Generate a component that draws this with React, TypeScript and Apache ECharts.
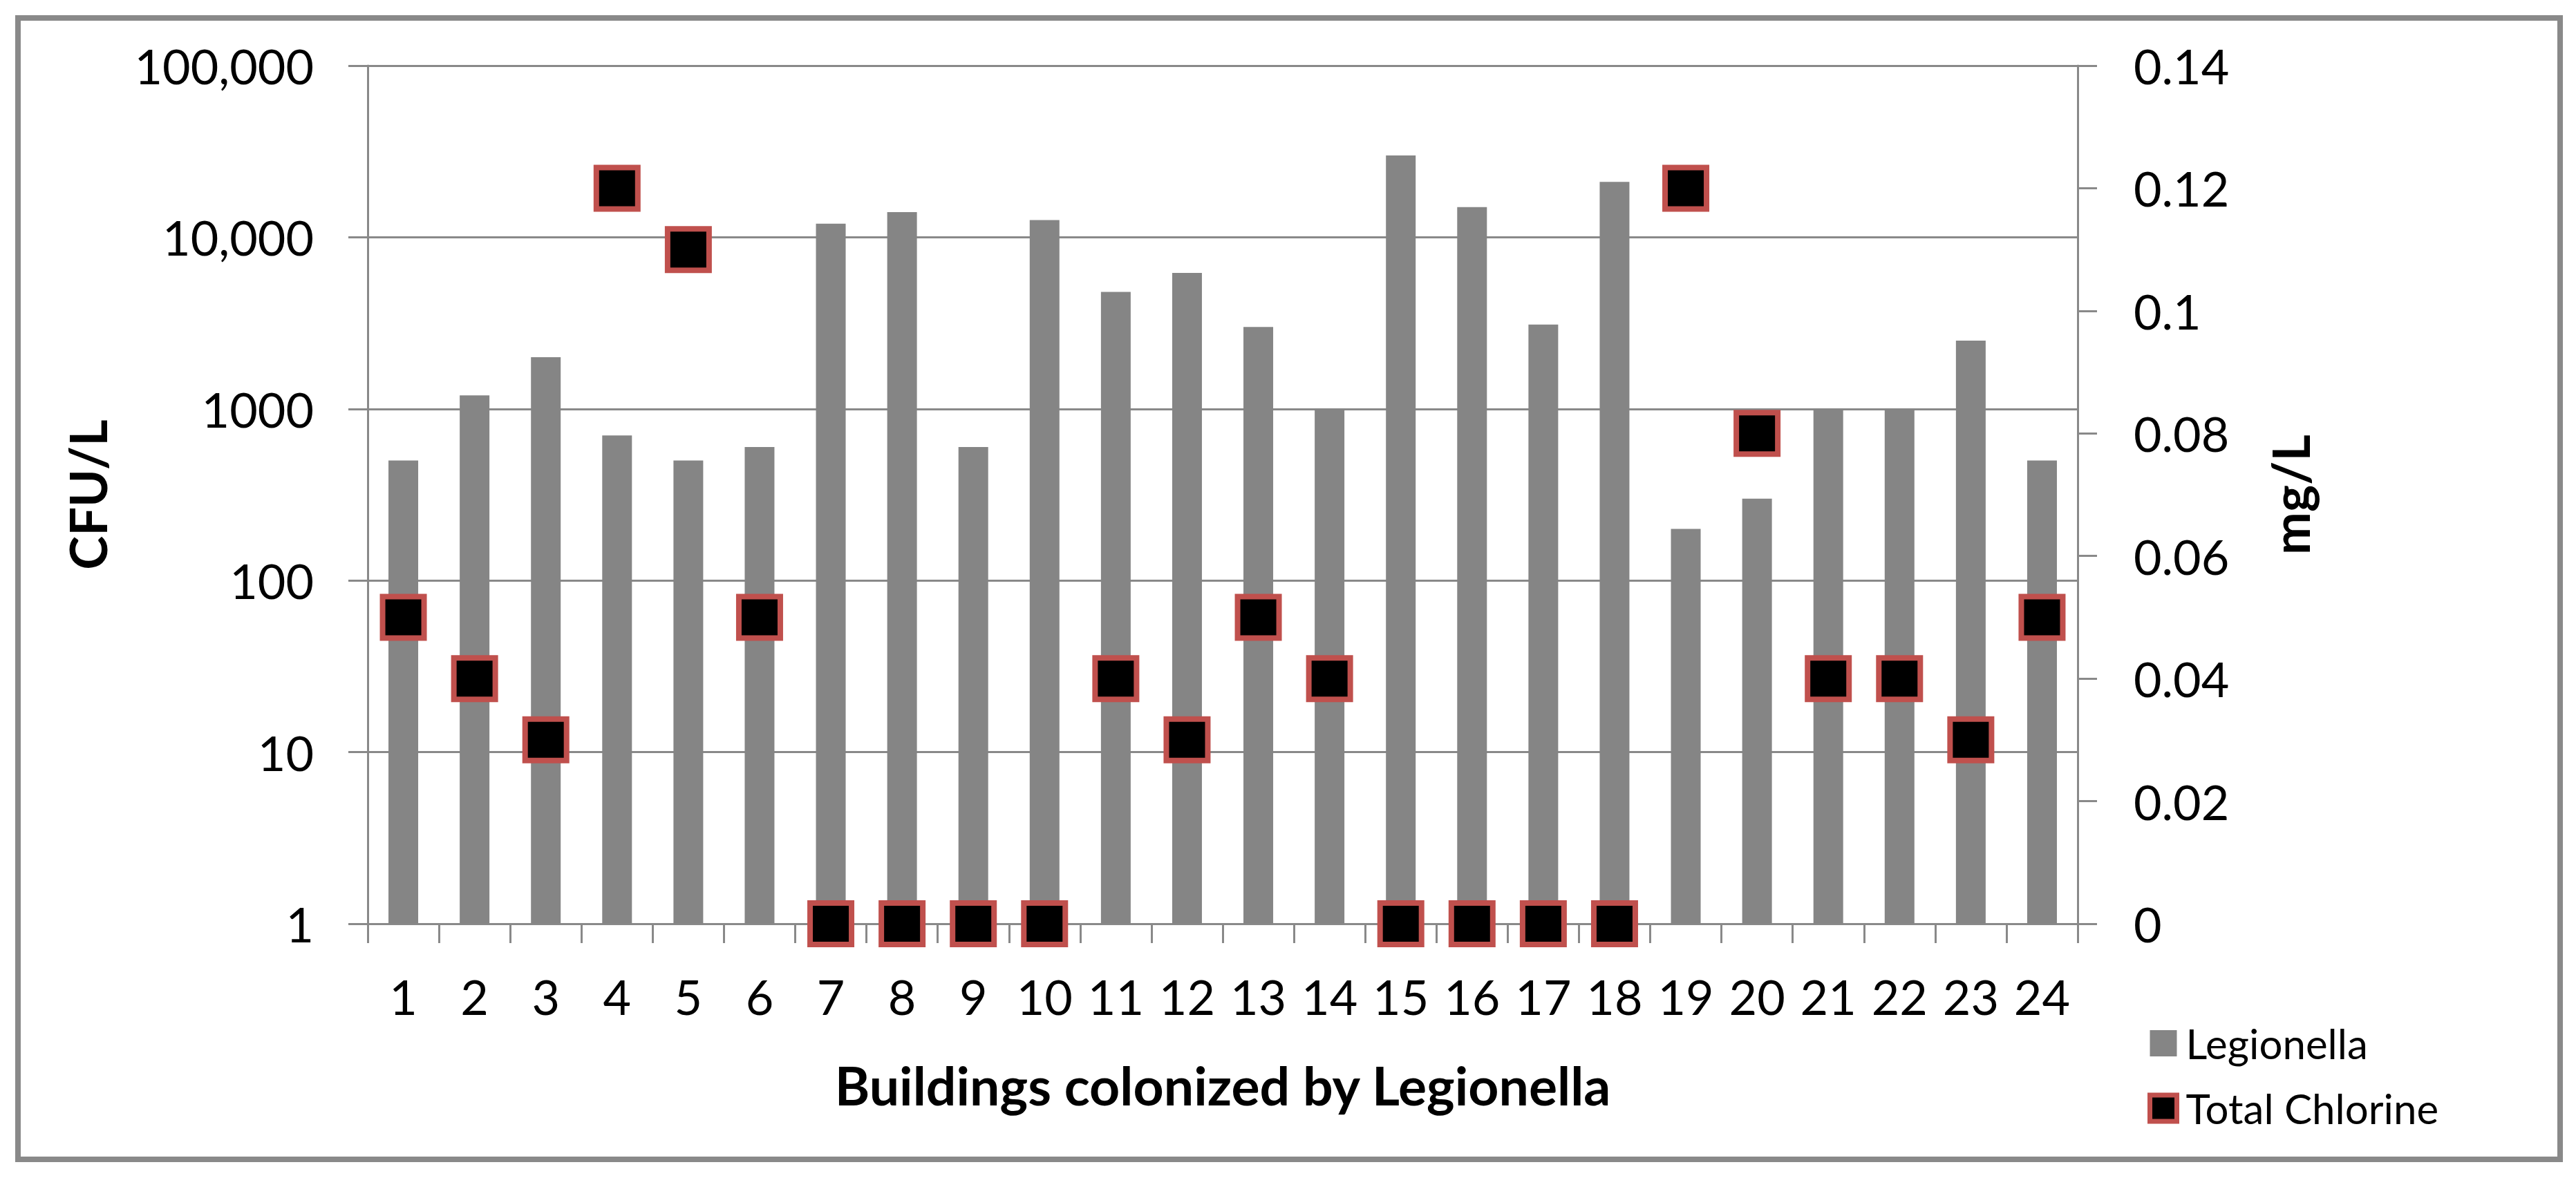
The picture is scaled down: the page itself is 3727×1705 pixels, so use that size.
import React, { useEffect, useRef } from "react";
import * as echarts from "echarts";

const categories = ["1","2","3","4","5","6","7","8","9","10","11","12","13","14","15","16","17","18","19","20","21","22","23","24"];
const legionellaCFU = [500,1200,2000,700,500,600,12000,14000,600,12600,4800,6200,3000,1000,30000,15000,3100,21000,200,300,1000,1000,2500,500];
const totalChlorine = [0.05,0.04,0.03,0.12,0.11,0.05,0,0,0,0,0.04,0.03,0.05,0.04,0,0,0,0,0.12,0.08,0.04,0.04,0.03,0.05];
const cfuTickLabels = ["1","10","100","1000","10,000","100,000"];
const mgTickLabels = ["0","0.02","0.04","0.06","0.08","0.1","0.12","0.14"];

const GRAY = "#898989";
const FONT = "Lato";

export default function App() {
  const ref = useRef<HTMLDivElement>(null);
  useEffect(() => {
    if (!ref.current) return;
    const chart = echarts.init(ref.current, null, { renderer: "svg" });
    const axisLineStyle = { color: GRAY, width: 3 };
    chart.setOption({
      animation: false,
      backgroundColor: "#ffffff",
      textStyle: { fontFamily: FONT, color: "#000" },
      grid: { left: 532, right: 721, top: 95, bottom: 368, containLabel: false },
      graphic: [
        {
          type: "rect",
          shape: { x: 26, y: 26, width: 3678, height: 1652 },
          style: { fill: "none", stroke: GRAY, lineWidth: 8 },
          z: -1,
        },
      ],
      legend: {
        orient: "vertical",
        left: 3102,
        top: 1475,
        itemWidth: 39,
        itemHeight: 38,
        itemGap: 34,
        textStyle: { fontSize: 60, fontFamily: FONT, color: "#000", padding: [0, 0, 0, 8] },
        data: [
          { name: "Legionella", icon: "rect", itemStyle: { color: "#858585" } },
          {
            name: "Total Chlorine",
            icon: "rect",
            itemStyle: { color: "#000", borderColor: "#c0504d", borderWidth: 7 },
          },
        ],
      },
      xAxis: {
        type: "category",
        data: categories,
        boundaryGap: true,
        name: "Buildings colonized by Legionella",
        nameLocation: "middle",
        nameGap: 194,
        nameTextStyle: { fontSize: 77, fontWeight: "bold", fontFamily: FONT, color: "#000" },
        axisLine: { show: true, lineStyle: axisLineStyle },
        axisTick: { show: true, length: 28, interval: 0, lineStyle: axisLineStyle },
        axisLabel: { interval: 0, fontSize: 70, fontFamily: FONT, color: "#000", margin: 70 },
        splitLine: { show: false },
      },
      yAxis: [
        {
          type: "log",
          logBase: 10,
          min: 1,
          max: 100000,
          name: "CFU/L",
          nameLocation: "middle",
          nameRotate: 90,
          nameGap: 369,
          nameTextStyle: { fontSize: 74, fontWeight: "bold", fontFamily: FONT, color: "#000" },
          axisLine: { show: true, lineStyle: axisLineStyle },
          axisTick: { show: true, length: 28, lineStyle: axisLineStyle },
          axisLabel: {
            fontSize: 70,
            fontFamily: FONT,
            color: "#000",
            margin: 78,
            formatter: (v: number) => cfuTickLabels[Math.round(Math.log10(v))] ?? "",
          },
          splitLine: { show: true, lineStyle: { color: GRAY, width: 3 } },
        },
        {
          type: "value",
          min: 0,
          max: 0.14,
          interval: 0.02,
          name: "mg/L",
          nameLocation: "middle",
          nameRotate: 90,
          nameGap: 270,
          nameTextStyle: { fontSize: 74, fontWeight: "bold", fontFamily: FONT, color: "#000" },
          axisLine: { show: true, lineStyle: axisLineStyle },
          axisTick: { show: true, length: 28, lineStyle: axisLineStyle },
          axisLabel: {
            fontSize: 70,
            fontFamily: FONT,
            color: "#000",
            margin: 81,
            formatter: (v: number) => mgTickLabels[Math.round(v / 0.02)] ?? "",
          },
          splitLine: { show: false },
        },
      ],
      series: [
        {
          name: "Legionella",
          type: "bar",
          yAxisIndex: 0,
          data: legionellaCFU,
          barWidth: 43,
          itemStyle: { color: "#858585" },
          z: 2,
        },
        {
          name: "Total Chlorine",
          type: "scatter",
          yAxisIndex: 1,
          data: totalChlorine,
          symbol: "rect",
          symbolSize: 60,
          clip: false,
          itemStyle: { color: "#000", borderColor: "#c0504d", borderWidth: 8, opacity: 1 },
          z: 5,
        },
      ],
    });
    return () => chart.dispose();
  }, []);
  return (
    <div
      ref={ref}
      style={{ position: "fixed", left: 0, top: 0, width: 3727, height: 1705, background: "#fff" }}
    />
  );
}
